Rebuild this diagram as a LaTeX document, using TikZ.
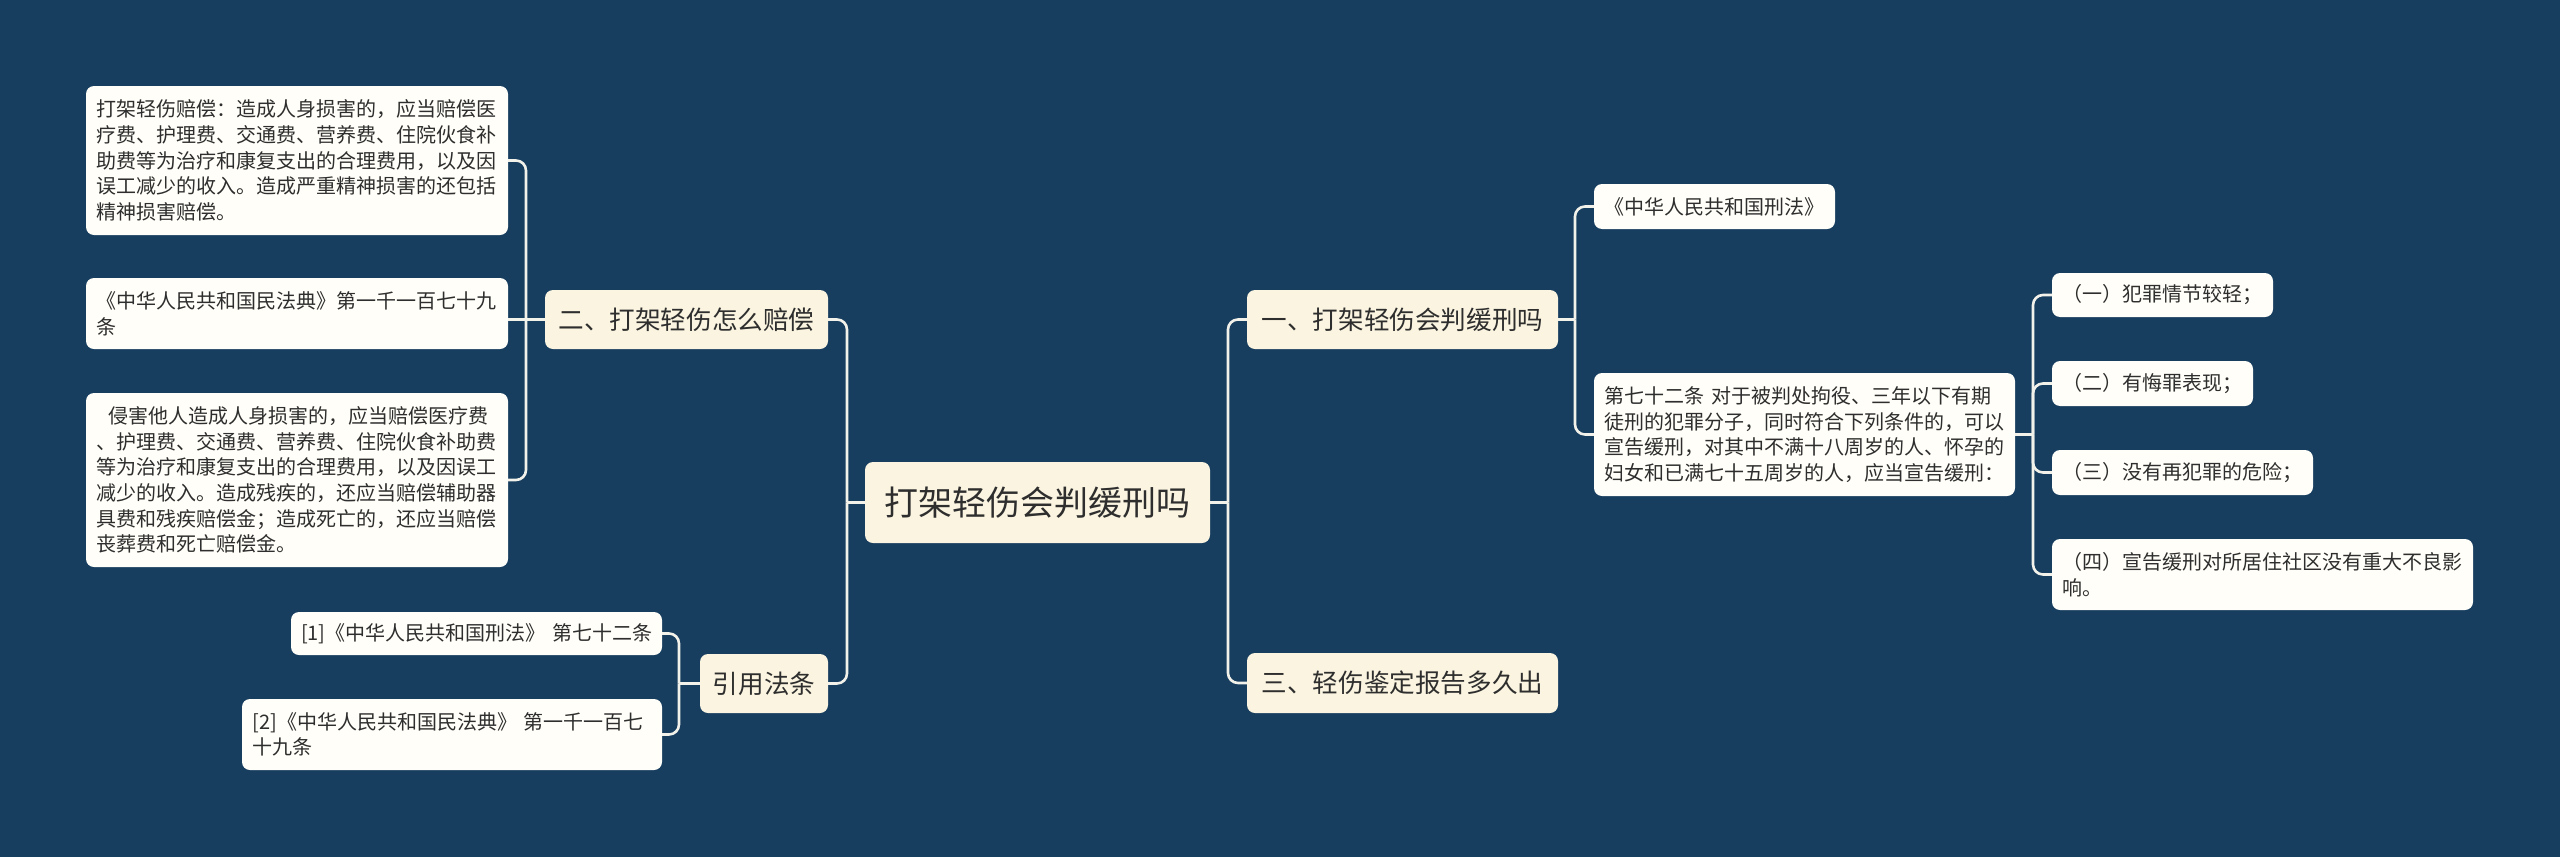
\documentclass[tikz,border=0pt]{standalone}
\usepackage{fontspec}
\setmainfont{Noto Sans CJK SC}
\definecolor{bg}{HTML}{173D5F}
\definecolor{cream}{HTML}{FAF4E0}
\definecolor{leafc}{HTML}{FFFEF8}
\definecolor{linec}{HTML}{F2F1EA}
\definecolor{txt}{HTML}{2E2E2E}
\begin{document}
\begin{tikzpicture}[x=1pt,y=-1pt,
 box/.style={rounded corners=8pt, text=txt, inner sep=0pt, anchor=center},
 rootbox/.style={box, fill=cream, minimum width=345pt, minimum height=81pt, font=\fontsize{34pt}{40pt}\selectfont},
 topic/.style={box, fill=cream, minimum height=59pt, font=\fontsize{25.6pt}{30pt}\selectfont},
 leaf/.style={box, fill=leafc, inner xsep=10.5pt, align=left, font=\fontsize{20pt}{25.6pt}\selectfont},
 conn/.style={draw=linec, line width=2.6pt, rounded corners=10pt}]
\useasboundingbox (0,0) rectangle (2560,857);
\fill[bg] (0,0) rectangle (2560,857);

% root
\node[rootbox] (root) at (1037.5,502.5) {打架轻伤会判缓刑吗};

% left topics
\node[topic, minimum width=283pt] (t2) at (686.5,319.5) {二、打架轻伤怎么赔偿};
\node[topic, minimum width=128pt] (tc) at (764,683.5) {引用法条};

% right topics
\node[topic, minimum width=311pt] (t1) at (1402.5,319.5) {一、打架轻伤会判缓刑吗};
\node[topic, minimum width=311pt, minimum height=60pt] (t3) at (1402.5,683) {三、轻伤鉴定报告多久出};

% leaves of t2
\node[leaf, text width=401pt, minimum height=149pt] (a) at (297,160.5) {打架轻伤赔偿：造成人身损害的，应当赔偿医\\疗费、护理费、交通费、营养费、住院伙食补\\助费等为治疗和康复支出的合理费用，以及因\\误工减少的收入。造成严重精神损害的还包括\\精神损害赔偿。};
\node[leaf, text width=401pt, minimum height=71pt] (b) at (297,313.5) {《中华人民共和国民法典》第一千一百七十九\\条};
\node[leaf, text width=401pt, minimum height=174pt] (c) at (297,480) {\hspace*{12pt}侵害他人造成人身损害的，应当赔偿医疗费\\、护理费、交通费、营养费、住院伙食补助费\\等为治疗和康复支出的合理费用，以及因误工\\减少的收入。造成残疾的，还应当赔偿辅助器\\具费和残疾赔偿金；造成死亡的，还应当赔偿\\丧葬费和死亡赔偿金。};

% leaves of tc
\node[leaf, inner xsep=7pt, text width=357pt, minimum height=43pt] (r1) at (476.5,633.5) {\hspace*{3pt}[1]《中华人民共和国刑法》 第七十二条};
\node[leaf, text width=399pt, minimum height=71pt] (r2) at (452,734.5) {[2]《中华人民共和国民法典》 第一千一百七\\十九条};

% leaves of t1
\node[leaf, text width=220pt, minimum height=45pt] (x1) at (1714.5,206.5) {《中华人民共和国刑法》};
\node[leaf, text width=400pt, minimum height=123pt] (x2) at (1804.5,434.5) {第七十二条 对于被判处拘役、三年以下有期\\徒刑的犯罪分子，同时符合下列条件的，可以\\宣告缓刑，对其中不满十八周岁的人、怀孕的\\妇女和已满七十五周岁的人，应当宣告缓刑：};

% leaves of x2
\node[leaf, text width=200pt, minimum height=44pt] (y1) at (2162.5,295) {（一）犯罪情节较轻；};
\node[leaf, text width=180pt, minimum height=45pt] (y2) at (2152.5,383.5) {（二）有悔罪表现；};
\node[leaf, text width=240pt, minimum height=45pt] (y3) at (2182.5,472.5) {（三）没有再犯罪的危险；};
\node[leaf, text width=400pt, minimum height=71pt] (y4) at (2262.5,574.5) {（四）宣告缓刑对所居住社区没有重大不良影\\响。};

% spine coordinates
\coordinate (spL) at (847,502.5);
\coordinate (spR) at (1228,502.5);
\coordinate (sp2) at (526,319.5);
\coordinate (spc) at (679,683.5);
\coordinate (sp1) at (1575,319.5);
\coordinate (spx) at (2033,434.5);

% connectors
\draw[conn] (root.west) -- (spL);
\draw[conn] (spL) |- (t2.east);
\draw[conn] (spL) |- (tc.east);
\draw[conn] (root.east) -- (spR);
\draw[conn] (spR) |- (t1.west);
\draw[conn] (spR) |- (t3.west);

\draw[conn] (t2.west) -- (sp2);
\draw[conn] (sp2) |- (a.east);
\draw[conn] (sp2) -- (b.east |- sp2);
\draw[conn] (sp2) |- (c.east);

\draw[conn] (tc.west) -- (spc);
\draw[conn] (spc) |- (r1.east);
\draw[conn] (spc) |- (r2.east);

\draw[conn] (t1.east) -- (sp1);
\draw[conn] (sp1) |- (x1.west);
\draw[conn] (sp1) |- (x2.west);

\draw[conn] (x2.east) -- (spx);
\draw[conn] (spx) |- (y1.west);
\draw[conn] (spx) |- (y2.west);
\draw[conn] (spx) |- (y3.west);
\draw[conn] (spx) |- (y4.west);
\end{tikzpicture}
\end{document}
